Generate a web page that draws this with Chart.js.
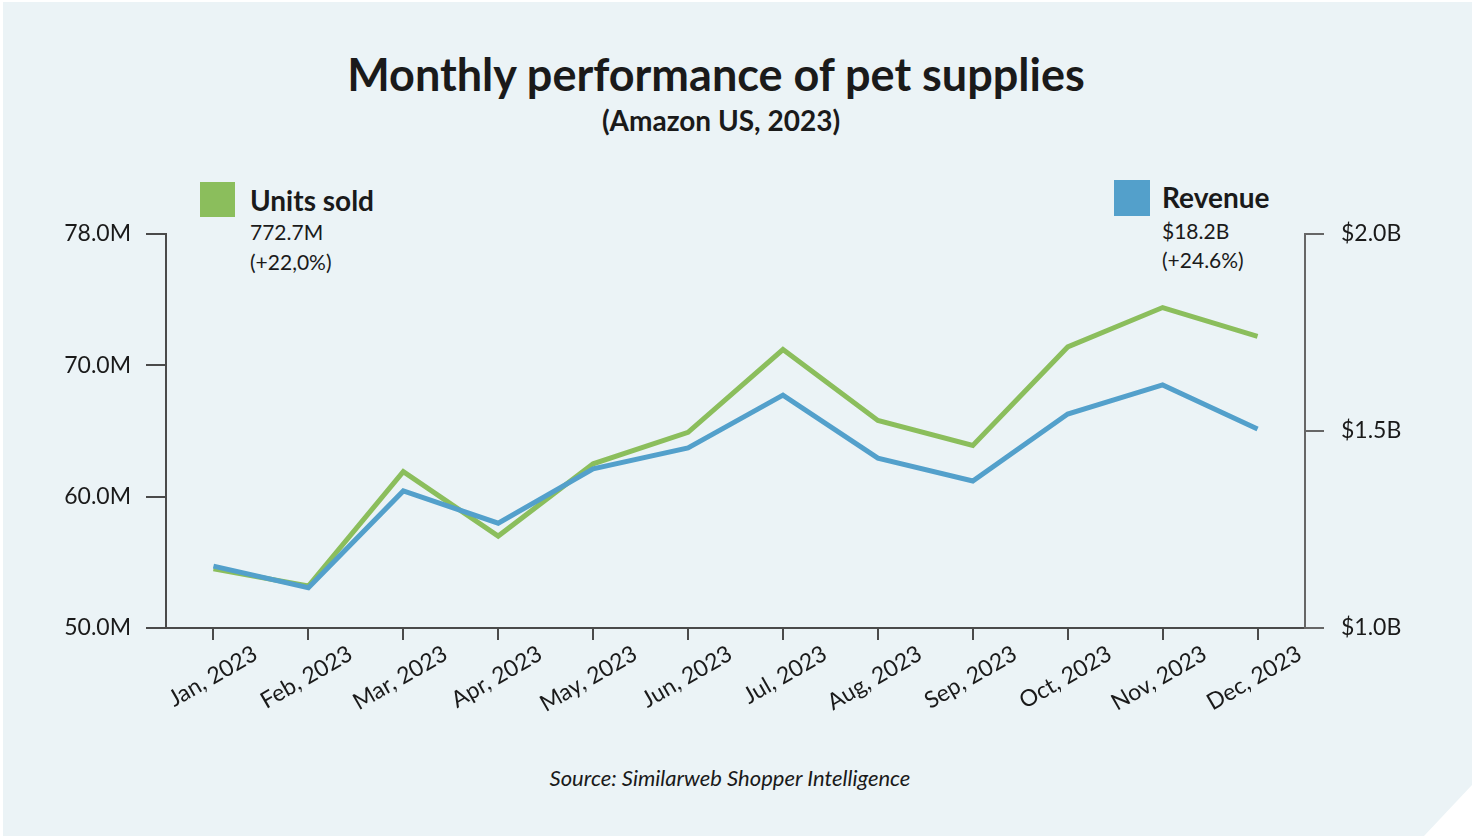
<!DOCTYPE html>
<html>
<head>
<meta charset="utf-8">
<script src="https://cdn.jsdelivr.net/npm/chart.js@4"></script>
<style>
  html, body { margin: 0; padding: 0; background: #ffffff; }
  #fundo {
    position: absolute; left: 3px; top: 2px; width: 1469px; height: 834px;
    background: #ebf3f6;
    clip-path: polygon(0 0, 100% 0, 100% 783px, 1421px 100%, 0 100%);
  }
  #caixa { position: absolute; left: 0; top: 0; width: 1472px; height: 836px; }
  .txt { position: absolute; font-family: Lato, "Open Sans", sans-serif; color: #1a1a1a; white-space: nowrap; }
  .quad { position: absolute; width: 35px; height: 35px; }
</style>
</head>
<body>
<div id="fundo"></div>
<div class="txt" id="titulo" style="left:0;width:1432px;text-align:center;top:47px;font-size:45px;font-weight:700;">Monthly performance of pet supplies</div>
<div class="txt" style="left:0;width:1442px;text-align:center;top:103px;font-size:28px;font-weight:700;">(Amazon US, 2023)</div>

<div class="quad" style="left:200px;top:182px;background:#8bbe5c;"></div>
<div class="txt" style="left:250px;top:183px;font-size:28px;font-weight:700;">Units sold</div>
<div class="txt" style="left:250px;top:217px;font-size:21px;line-height:30px;">772.7M<br>(+22,0%)</div>

<div class="quad" style="left:1114px;top:180px;width:36px;height:36px;background:#53a0cb;"></div>
<div class="txt" style="left:1162px;top:180px;font-size:28px;font-weight:700;">Revenue</div>
<div class="txt" style="left:1162px;top:216px;font-size:21px;line-height:29px;">$18.2B<br>(+24.6%)</div>

<div class="txt" style="left:0;width:1460px;text-align:center;top:764px;font-size:22px;font-style:italic;">Source: Similarweb Shopper Intelligence</div>

<div id="caixa"><canvas id="grafico"></canvas></div>

<script>
// dados
let meses = ['Jan, 2023', 'Feb, 2023', 'Mar, 2023', 'Apr, 2023', 'May, 2023', 'Jun, 2023',
             'Jul, 2023', 'Aug, 2023', 'Sep, 2023', 'Oct, 2023', 'Nov, 2023', 'Dec, 2023'];
let unidades = [54.5, 53.2, 61.9, 57.0, 62.5, 64.9, 71.2, 65.8, 63.9, 71.4, 74.4, 72.2];   // milhões
let receita = [1.157, 1.102, 1.348, 1.266, 1.404, 1.457, 1.591, 1.431, 1.373, 1.543, 1.617, 1.505]; // bilhões
let rotulosUnidades = ['50.0M', '60.0M', '70.0M', '78.0M'];
let rotulosReceita = ['$1.0B', '$1.5B', '$2.0B'];

const fonteEixo = { family: 'Lato, "Open Sans", sans-serif', size: 23 };
const corEixo = '#4a4a4a';

function criarGrafico() {
    let ctx = document.getElementById('grafico').getContext('2d');
    new Chart(ctx, {
        type: 'line',
        data: {
            labels: meses,
            datasets: [
                {
                    label: 'Units sold',
                    data: unidades,
                    yAxisID: 'yUnid',
                    borderColor: '#8bbe5c',
                    borderWidth: 5,
                    pointRadius: 0,
                    tension: 0,
                    order: 1
                },
                {
                    label: 'Revenue',
                    data: receita,
                    yAxisID: 'yRec',
                    borderColor: '#53a0cb',
                    borderWidth: 5,
                    pointRadius: 0,
                    tension: 0,
                    order: 0
                }
            ]
        },
        options: {
            responsive: true,
            maintainAspectRatio: false,
            animation: false,
            layout: { padding: { top: 234, left: 0, right: 0, bottom: 0 } },
            plugins: { legend: { display: false }, tooltip: { enabled: false } },
            scales: {
                x: {
                    offset: true,
                    grid: { drawOnChartArea: false, color: corEixo, lineWidth: 2, tickLength: 12 },
                    border: { color: corEixo, width: 2 },
                    ticks: { color: '#1a1a1a', font: fonteEixo, maxRotation: 30, minRotation: 30, padding: 0, labelOffset: 42 },
                    afterFit: function(escala) { escala.height = 836 - 628; }
                },
                yUnid: {
                    position: 'left',
                    min: 50, max: 80,
                    ticks: {
                        stepSize: 10,
                        color: '#1a1a1a', font: fonteEixo, padding: 15,
                        callback: function(v, i) { return rotulosUnidades[i]; }
                    },
                    grid: { drawOnChartArea: false, color: corEixo, lineWidth: 2, tickLength: 20 },
                    border: { color: corEixo, width: 2 },
                    afterFit: function(escala) { escala.width = 166; }
                },
                yRec: {
                    position: 'right',
                    min: 1.0, max: 2.0,
                    ticks: {
                        stepSize: 0.5,
                        color: '#1a1a1a', font: fonteEixo, padding: 17,
                        callback: function(v, i) { return rotulosReceita[i]; }
                    },
                    grid: { drawOnChartArea: false, color: '#666666', lineWidth: 2, tickLength: 19 },
                    border: { color: '#666666', width: 2 },
                    afterFit: function(escala) { escala.width = 1472 - 1305; }
                }
            }
        }
    });
}

document.addEventListener("DOMContentLoaded", criarGrafico);
</script>
</body>
</html>
